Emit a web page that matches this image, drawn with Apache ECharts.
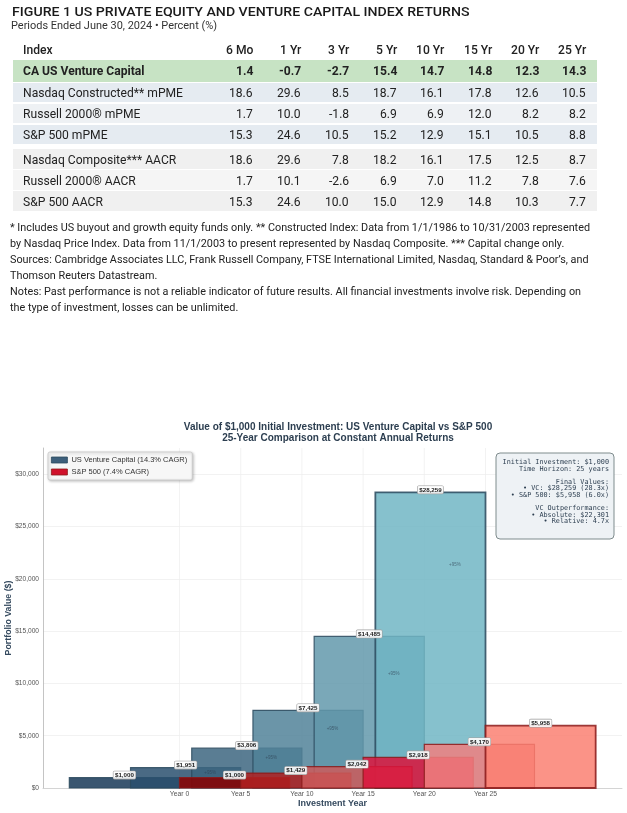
<!DOCTYPE html>
<html>
<head>
<meta charset="utf-8">
<script src="https://cdn.jsdelivr.net/npm/echarts@6/dist/echarts.min.js"></script>
<style>
  html, body { margin: 0; padding: 0; background: #fff; }
  #wrap { position: relative; width: 627px; height: 813px; overflow: hidden; }
  #chart { position: absolute; left: 0; top: 0; width: 627px; height: 813px; }
  #top { position: absolute; left: 0; top: 0; width: 627px; height: 400px; pointer-events: none; }
  .band { position: absolute; }
</style>
</head>
<body>
<div id="wrap">
  <div id="chart"></div>
  <div id="top"></div>
</div>
<script>
// ---------------- table data ----------------
const figureTitle = 'FIGURE 1  US PRIVATE EQUITY AND VENTURE CAPITAL INDEX RETURNS';
const figureSubtitle = 'Periods Ended June 30, 2024 \u2022 Percent (%)';
const tableColumns = ['6 Mo', '1 Yr', '3 Yr', '5 Yr', '10 Yr', '15 Yr', '20 Yr', '25 Yr'];
const rowLabels = ['CA US Venture Capital', 'Nasdaq Constructed** mPME', 'Russell 2000\u00ae mPME', 'S&P 500 mPME',
                   'Nasdaq Composite*** AACR', 'Russell 2000\u00ae AACR', 'S&P 500 AACR'];
const caUSVentureCapital   = [1.4, -0.7, -2.7, 15.4, 14.7, 14.8, 12.3, 14.3];
const nasdaqConstructedMPME = [18.6, 29.6, 8.5, 18.7, 16.1, 17.8, 12.6, 10.5];
const russell2000MPME      = [1.7, 10.0, -1.8, 6.9, 6.9, 12.0, 8.2, 8.2];
const sp500MPME            = [15.3, 24.6, 10.5, 15.2, 12.9, 15.1, 10.5, 8.8];
const nasdaqCompositeAACR  = [18.6, 29.6, 7.8, 18.2, 16.1, 17.5, 12.5, 8.7];
const russell2000AACR      = [1.7, 10.1, -2.6, 6.9, 7.0, 11.2, 7.8, 7.6];
const sp500AACR            = [15.3, 24.6, 10.0, 15.0, 12.9, 14.8, 10.3, 7.7];
const noteLines = [
  '* Includes US buyout and growth equity funds only. ** Constructed Index: Data from 1/1/1986 to 10/31/2003 represented',
  'by Nasdaq Price Index. Data from 11/1/2003 to present represented by Nasdaq Composite. *** Capital change only.',
  'Sources: Cambridge Associates LLC, Frank Russell Company, FTSE International Limited, Nasdaq, Standard & Poor\u2019s, and',
  'Thomson Reuters Datastream.',
  'Notes: Past performance is not a reliable indicator of future results. All financial investments involve risk. Depending on',
  'the type of investment, losses can be unlimited.'
];

// ---------------- chart data ----------------
const years = [0, 5, 10, 15, 20, 25];
const vcValues = [1000, 1951, 3806, 7425, 14485, 28259];
const spValues = [1000, 1429, 2042, 2918, 4170, 5958];
const vcName = 'US Venture Capital (14.3% CAGR)';
const spName = 'S&P 500 (7.4% CAGR)';
const chartTitle = 'Value of $1,000 Initial Investment: US Venture Capital vs S&P 500\n25-Year Comparison at Constant Annual Returns';
const infoLines = [
  'Initial Investment: $1,000',
  'Time Horizon: 25 years',
  '',
  'Final Values:',
  '\u2022 VC: $28,259 (28.3x)',
  '\u2022 S&P 500: $5,958 (6.0x)',
  '',
  'VC Outperformance:',
  '\u2022 Absolute: $22,301',
  '\u2022 Relative: 4.7x'
];
const xTickYears = [0, 5, 10, 15, 20, 25];

// ---------------- top table (HTML text) ----------------
const topEl = document.getElementById('top');
const mctx = document.createElement('canvas').getContext('2d');
function measure(text, font) { mctx.font = font; return mctx.measureText(text).width; }
function place(text, x, y, o) {
  const fam = o.ff || 'Roboto';
  const font = (o.fw || 400) + ' ' + o.fs + 'px ' + fam;
  const w = measure(text, font);
  const sx = o.sx || 1;
  const d = document.createElement('div');
  d.textContent = text;
  d.style.cssText = 'position:absolute;white-space:nowrap;line-height:' + o.fs + 'px;height:' + o.fs + 'px;' +
    'font-family:' + fam + ';font-size:' + o.fs + 'px;font-weight:' + (o.fw || 400) + ';color:' + (o.c || '#222') + ';' +
    'transform-origin:0 50%;transform:scaleX(' + sx + ');';
  const ww = w * sx;
  let left = x;
  if (o.anchor === 'right') left = x - ww;
  else if (o.anchor === 'center') left = x - ww / 2;
  d.style.left = left + 'px';
  d.style.top = (y - o.fs / 2) + 'px';
  topEl.appendChild(d);
}
function band(x, y, w, h, color) {
  const d = document.createElement('div');
  d.className = 'band';
  d.style.left = x + 'px'; d.style.top = y + 'px'; d.style.width = w + 'px'; d.style.height = h + 'px';
  d.style.background = color;
  topEl.appendChild(d);
}

(function drawTable() {
  const titleFs = 12.5;
  const titleSx = 461 / measure(figureTitle, '500 ' + titleFs + 'px Roboto');
  place(figureTitle, 12, 12, { fs: titleFs, fw: 500, sx: titleSx, c: '#1a1a1a' });
  const subFs = 10.5;
  const subSx = 206 / measure(figureSubtitle, '400 ' + subFs + 'px Roboto');
  place(figureSubtitle, 11, 26, { fs: subFs, sx: subSx, c: '#333' });

  const tFs = 13;
  const tSx = 160 / measure('Nasdaq Constructed** mPME', '400 ' + tFs + 'px Roboto');
  const colRight = [253, 301, 349, 397, 444, 492, 539, 586];
  const rowY = [70.5, 92.5, 113.5, 134.5, 159, 180, 201];
  const bandColors = ['#c7e3c4', '#e5ebf1', '#eef1f4', '#e5ebf1', '#f0f0f0', '#f5f5f5', '#f0f0f0'];
  const rows = [caUSVentureCapital, nasdaqConstructedMPME, russell2000MPME, sp500MPME,
                nasdaqCompositeAACR, russell2000AACR, sp500AACR];
  place('Index', 23, 49, { fs: tFs, fw: 500, sx: tSx, c: '#222' });
  tableColumns.forEach((c, j) => place(c, colRight[j], 49, { fs: tFs, fw: 500, sx: tSx, anchor: 'right', c: '#222' }));
  rows.forEach((vals, i) => {
    const h = i === 0 ? 22 : 19.5;
    band(13, rowY[i] - h / 2, 584, h, bandColors[i]);
    const fw = i === 0 ? 700 : 400;
    place(rowLabels[i], 23, rowY[i], { fs: tFs, fw: fw, sx: tSx, c: '#222' });
    vals.forEach((v, j) => place(v.toFixed(1), colRight[j], rowY[i], { fs: tFs, fw: fw, sx: tSx, anchor: 'right', c: '#222' }));
  });

  const nFs = 11.2;
  const nSx = 580 / measure(noteLines[0], '400 ' + nFs + 'px Roboto');
  const noteY = [228, 244, 260, 276, 292, 308];
  noteLines.forEach((l, i) => place(l, 10, noteY[i], { fs: nFs, sx: nSx, c: '#222' }));
})();

// ---------------- chart ----------------
const vcFill = ['#173857', '#2a506f', '#3d6680', '#518299', '#6399ab', '#71b6c4'];
const spFill = ['#8b0000', '#b22222', '#cd5c5c', '#dc143c', '#f08080', '#fa8072'];
const barSpan = 9;
const yMax = Math.max(...vcValues) * 1.15;
const FONT = 'Liberation Sans, Arial, sans-serif';

const chart = echarts.init(document.getElementById('chart'), null, { renderer: 'canvas' });

function barRender(fills, stroke, side) {
  return function (params, api) {
    const t = api.value(0), v = api.value(1), i = params.dataIndex;
    const x0 = side < 0 ? t - barSpan : t;
    const x1 = side < 0 ? t : t + barSpan;
    const p0 = api.coord([x0, v]);
    const p1 = api.coord([x1, 0]);
    return {
      type: 'rect',
      shape: { x: p0[0], y: p0[1], width: p1[0] - p0[0], height: p1[1] - p0[1] },
      style: { fill: fills[i], stroke: stroke, lineWidth: i === fills.length - 1 ? 1.8 : 1.2, opacity: 0.85 }
    };
  };
}

const labelData = [];
years.forEach((t, i) => labelData.push([t - barSpan / 2, vcValues[i]]));
years.forEach((t, i) => labelData.push([t + barSpan / 2, spValues[i]]));

const growthData = [];
years.forEach((t, i) => {
  if (i > 0) growthData.push([t - 2.5, (vcValues[i] + vcValues[i - 1]) / 2, Math.round((vcValues[i] / vcValues[i - 1] - 1) * 100)]);
});

const option = {
  animation: false,
  title: {
    text: chartTitle,
    left: 333, top: 417, textAlign: 'center',
    textStyle: { fontFamily: FONT, fontSize: 10, fontWeight: 'bold', color: '#2c3e50', lineHeight: 11 }
  },
  legend: {
    orient: 'vertical', left: 48, top: 452,
    data: [
      { name: vcName, itemStyle: { color: '#3d5f7b', borderColor: '#2c4a5e', borderWidth: 0.8 } },
      { name: spName, itemStyle: { color: '#d0112b', borderColor: '#8b1a1a', borderWidth: 0.8 } }
    ],
    icon: 'rect', itemWidth: 16, itemHeight: 6, itemGap: 4,
    padding: [4, 5, 4, 3],
    backgroundColor: '#f7f7f7', borderColor: '#c8c8c8', borderWidth: 0.8, borderRadius: 2,
    shadowBlur: 3, shadowColor: 'rgba(0,0,0,0.25)', shadowOffsetX: 1, shadowOffsetY: 1,
    textStyle: { fontFamily: FONT, fontSize: 7.5, color: '#333', padding: [0, 0, 0, -1] },
    selectedMode: false
  },
  grid: { left: 43, right: 5, top: 448, bottom: 25, containLabel: false, outerBoundsMode: 'none' },
  xAxis: {
    type: 'value', min: -11.15, max: 36.15,
    name: 'Investment Year', nameLocation: 'middle', nameGap: 11,
    nameTextStyle: { fontFamily: FONT, fontSize: 9, fontWeight: 'bold', color: '#34495e' },
    axisLine: { show: true, onZero: false, lineStyle: { color: '#cccccc', width: 0.8 } },
    axisTick: { show: false },
    splitLine: { show: false },
    axisLabel: {
      customValues: xTickYears, margin: 3,
      fontFamily: FONT, fontSize: 6.8, color: '#555',
      formatter: v => 'Year ' + v
    }
  },
  yAxis: {
    type: 'value', min: 0, max: yMax, interval: 5000,
    name: 'Portfolio Value ($)', nameLocation: 'middle', nameGap: 30, nameMoveOverlap: false,
    nameTextStyle: { fontFamily: FONT, fontSize: 8.8, fontWeight: 'bold', color: '#34495e' },
    axisLine: { show: true, onZero: false, lineStyle: { color: '#b5b5b5', width: 0.8 } },
    axisTick: { show: false },
    splitLine: { show: true, showMaxLine: false, lineStyle: { color: '#ececec', width: 0.7 } },
    axisLabel: {
      showMaxLabel: false, margin: 4,
      fontFamily: FONT, fontSize: 6.6, color: '#555',
      formatter: v => '$' + v.toLocaleString('en-US')
    }
  },
  graphic: [
    {
      type: 'rect', x: 496, y: 453, z: 100,
      shape: { x: 0, y: 0, width: 118, height: 86, r: 4 },
      style: { fill: '#eef2f5', stroke: '#7f8c8d', lineWidth: 1 }
    },
    {
      type: 'text', x: 609, y: 459, z: 101,
      style: {
        text: infoLines.join('\n'), align: 'right', verticalAlign: 'top',
        font: '6.8px "DejaVu Sans Mono", monospace', lineHeight: 6.6, fill: '#2c3e50'
      }
    }
  ],
  series: [
    {
      type: 'custom', name: 'xgrid', z: 1, silent: true,
      data: xTickYears.map(t => [t, 0]),
      encode: { x: 0, y: 1 },
      renderItem: function (params, api) {
        const p = api.coord([api.value(0), 0]);
        const cs = params.coordSys;
        return { type: 'line', shape: { x1: p[0], y1: cs.y, x2: p[0], y2: cs.y + cs.height },
                 style: { stroke: '#ececec', lineWidth: 0.7 } };
      }
    },
    {
      type: 'custom', name: vcName, z: 2,
      itemStyle: { color: '#3d5f7b' },
      data: years.map((t, i) => [t, vcValues[i]]),
      encode: { x: 0, y: 1 },
      renderItem: barRender(vcFill, '#2c4a5e', -1)
    },
    {
      type: 'custom', name: spName, z: 3,
      itemStyle: { color: '#d0112b' },
      data: years.map((t, i) => [t, spValues[i]]),
      encode: { x: 0, y: 1 },
      renderItem: barRender(spFill, '#8b1a1a', 1)
    },
    {
      type: 'custom', name: 'growth', z: 4, silent: true,
      data: growthData,
      encode: { x: 0, y: 1 },
      renderItem: function (params, api) {
        const p = api.coord([api.value(0), api.value(1)]);
        return { type: 'text', x: p[0], y: p[1],
                 style: { text: '+' + api.value(2) + '%', align: 'center', verticalAlign: 'middle',
                          font: '4.5px ' + FONT, fill: 'rgba(44,62,80,0.65)' } };
      }
    },
    {
      type: 'custom', name: 'labels', z: 5, silent: true,
      data: labelData,
      encode: { x: 0, y: 1 },
      renderItem: function (params, api) {
        const p = api.coord([api.value(0), api.value(1)]);
        return { type: 'text', x: p[0], y: p[1] - 2.5,
                 style: { text: '$' + api.value(1).toLocaleString('en-US'), align: 'center', verticalAlign: 'middle',
                          font: 'bold 6.2px ' + FONT, fill: '#222',
                          backgroundColor: 'rgba(255,255,255,0.88)', borderColor: '#a0a0a0', borderWidth: 0.6,
                          borderRadius: 1, padding: [1, 1.5, 0.5, 1.5] } };
      }
    }
  ]
};
chart.setOption(option);
</script>
</body>
</html>
